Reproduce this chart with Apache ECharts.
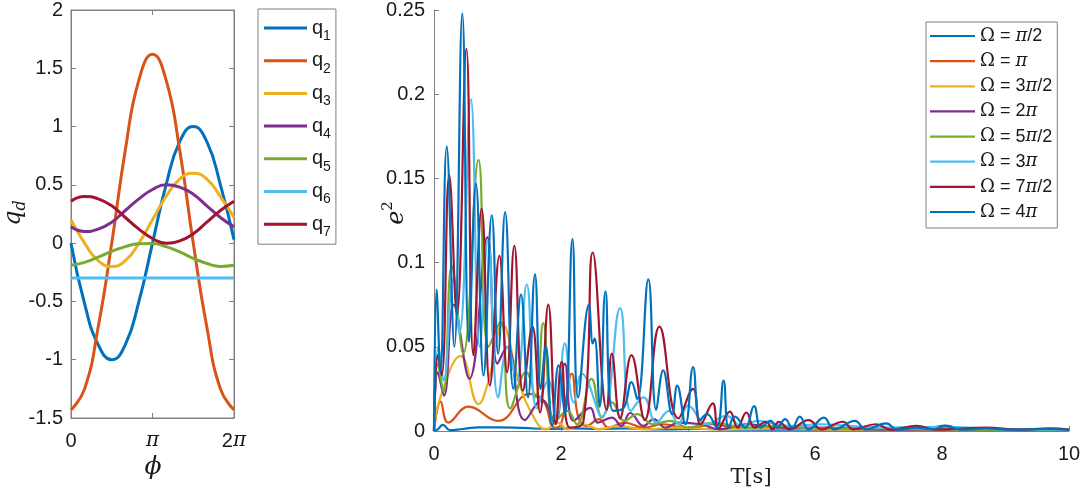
<!DOCTYPE html>
<html>
<head>
<meta charset="utf-8">
<script src="https://cdn.jsdelivr.net/npm/echarts@6/dist/echarts.min.js"></script>
<style>
  html, body { margin: 0; padding: 0; background: #fff; }
  #container { width: 1084px; height: 490px; }
</style>
</head>
<body>
<div id="container"></div>
<script>
// left panel: phi in multiples of pi
var phi = [0, 1/6, 2/6, 3/6, 4/6, 5/6, 1, 7/6, 8/6, 9/6, 10/6, 11/6, 2];
var q1 = [0, -0.52, -0.87, -1.0, -0.87, -0.5, 0, 0.5, 0.87, 1.0, 0.87, 0.5, 0.03];
var q2 = [-1.43, -1.25, -0.72, 0.0, 0.8, 1.4, 1.62, 1.4, 0.8, 0.0, -0.72, -1.25, -1.43];
var q3 = [0.2, 0.0, -0.15, -0.2, -0.15, 0.0, 0.2, 0.4, 0.55, 0.6, 0.55, 0.4, 0.22];
var q4 = [0.14, 0.1, 0.12, 0.18, 0.28, 0.38, 0.46, 0.5, 0.48, 0.42, 0.32, 0.22, 0.14];
var q5 = [-0.19, -0.165, -0.12, -0.07, -0.03, -0.005, -0.003, -0.03, -0.075, -0.13, -0.175, -0.2, -0.19];
var q6 = [-0.3, -0.3, -0.3, -0.3, -0.3, -0.3, -0.3, -0.3, -0.3, -0.3, -0.3, -0.3, -0.3];
var q7 = [0.36, 0.4, 0.38, 0.32, 0.22, 0.12, 0.04, 0.0, 0.02, 0.08, 0.18, 0.28, 0.36];
var qNames = ['q1', 'q2', 'q3', 'q4', 'q5', 'q6', 'q7'];

// right panel: [T, e^2]
var eHalfPi = [[0,0],[0.06,0.001],[0.14,0.0036],[0.25,0.0005],[0.45,0.0012],[0.7,0.0022],[1.0,0.0022],[1.4,0.0018],[1.8,0.0012],[2.2,0.0016],[2.6,0.0012],[3.0,0.0016],[3.6,0.001],[4.2,0.0012],[5,0.0008],[6,0.0008],[7,0.0007],[7.7,0.0008],[8.05,0.0032],[8.35,0.0008],[9,0.0006],[10,0.0005]];
var ePi = [[0,0],[0.105,0.0174],[0.225,0.005],[0.54,0.0145],[1.01,0.006],[1.51,0.022],[1.72,0.018],[1.9,0.002],[2.0,0.004],[2.17,0.034],[2.27,0.0085],[2.4,0.003],[2.6,0.007],[2.75,0.002],[3.0,0.005],[3.3,0.002],[3.6,0.004],[4.0,0.0015],[4.4,0.004],[4.8,0.0015],[5.4,0.003],[6,0.001],[6.8,0.002],[7.5,0.001],[8.2,0.0015],[9,0.0008],[10,0.0006]];
var e3HalfPi = [[0,0],[0.1,0.02],[0.42,0.0445],[0.7,0.016],[0.86,0.03],[1.08,0.063],[1.33,0.03],[1.51,0.0125],[1.77,0.001],[1.95,0.005],[2.1,0.001],[2.35,0.004],[2.6,0.001],[2.9,0.003],[3.3,0.001],[3.8,0.002],[4.5,0.001],[5.5,0.0015],[6.5,0.0008],[8,0.001],[10,0.0005]];
var e2Pi = [[0,0],[0.06,0.035],[0.157,0.021],[0.31,0.075],[0.556,0.031],[0.84,0.115],[1.0,0.04],[1.15,0.05],[1.43,0.0065],[1.7,0.0184],[1.9,0.005],[2.06,0.04],[2.2,0.006],[2.46,0.0137],[2.58,0.005],[2.8,0.008],[2.95,0.003],[3.09,0.0107],[3.3,0.003],[3.46,0.007],[3.65,0.002],[3.85,0.005],[4.2,0.004],[4.5,0.001],[4.9,0.004],[5.5,0.002],[6.2,0.002],[7,0.001],[8,0.001],[10,0.0005]];
var e5HalfPi = [[0,0],[0.06,0.04],[0.15,0.023],[0.28,0.098],[0.46,0.046],[0.7,0.161],[0.86,0.05],[1.05,0.065],[1.2,0.0134],[1.45,0.035],[1.6,0.02],[1.72,0.064],[1.9,0.005],[2.1,0.012],[2.25,0.004],[2.48,0.031],[2.65,0.008],[2.8,0.017],[3.0,0.006],[3.2,0.01],[3.45,0.004],[3.72,0.006],[4.0,0.002],[4.4,0.005],[4.9,0.002],[5.4,0.003],[6,0.0015],[7,0.0015],[8,0.001],[10,0.0005]];
var e3Pi = [[0,0],[0.07,0.05],[0.15,0.03],[0.3,0.09],[0.4,0.058],[0.58,0.197],[0.72,0.05],[0.85,0.113],[1.01,0.02],[1.16,0.05],[1.3,0.03],[1.46,0.087],[1.62,0.0135],[1.8,0.03],[1.93,0.008],[2.06,0.052],[2.2,0.017],[2.33,0.034],[2.64,0.0085],[2.93,0.073],[3.1,0.012],[3.3,0.02],[3.5,0.005],[3.7,0.012],[3.85,0.004],[4.0,0.015],[4.3,0.004],[4.6,0.009],[4.85,0.003],[5.1,0.006],[5.6,0.003],[6.1,0.004],[7,0.002],[8,0.0025],[9,0.001],[10,0.0008]];
var e7HalfPi = [[0,0],[0.06,0.045],[0.12,0.033],[0.24,0.152],[0.36,0.069],[0.51,0.227],[0.62,0.045],[0.75,0.132],[0.88,0.027],[1.03,0.104],[1.15,0.035],[1.265,0.11],[1.4,0.024],[1.55,0.062],[1.67,0.011],[1.8,0.075],[1.92,0.004],[2.01,0.041],[2.14,0.002],[2.35,0.005],[2.5,0.106],[2.72,0.0125],[2.8,0.046],[2.93,0.0075],[3.11,0.045],[3.32,0.0065],[3.55,0.062],[3.85,0.0075],[4.08,0.025],[4.2,0.004],[4.39,0.0164],[4.48,0.0015],[4.66,0.0115],[4.78,0.002],[4.92,0.011],[5.05,0.002],[5.23,0.0055],[5.33,0.001],[5.43,0.0055],[5.6,0.001],[5.9,0.0065],[6.1,0.001],[6.44,0.0055],[6.6,0.001],[6.96,0.004],[7.2,0.0008],[7.6,0.003],[7.9,0.0008],[8.7,0.002],[9.2,0.0008],[9.7,0.0015],[10,0.0008]];
var e4Pi = [[0,0],[0.04,0.084],[0.1,0.035],[0.2,0.169],[0.32,0.05],[0.446,0.248],[0.55,0.053],[0.66,0.147],[0.78,0.033],[0.91,0.128],[1.01,0.046],[1.12,0.13],[1.25,0.025],[1.37,0.081],[1.48,0.02],[1.59,0.093],[1.68,0.025],[1.76,0.05],[1.86,0.003],[1.96,0.039],[2.06,0.01],[2.18,0.114],[2.27,0.02],[2.44,0.075],[2.5,0.052],[2.53,0.055],[2.61,0.0145],[2.7,0.083],[2.82,0.012],[2.98,0.0135],[3.11,0.029],[3.2,0.019],[3.375,0.09],[3.5,0.0125],[3.61,0.036],[3.75,0.01],[3.83,0.027],[3.96,0.004],[4.08,0.038],[4.19,0.0065],[4.3,0.01],[4.45,0.002],[4.56,0.03],[4.64,0.002],[4.74,0.0085],[4.9,0.002],[5.04,0.0148],[5.15,0.002],[5.3,0.006],[5.4,0.002],[5.53,0.007],[5.64,0.002],[5.76,0.0085],[5.9,0.001],[6.14,0.008],[6.3,0.001],[6.63,0.006],[6.8,0.001],[7.12,0.0045],[7.3,0.0008],[7.6,0.002],[7.85,0.001],[8.05,0.003],[8.3,0.0008],[8.7,0.0015],[9.1,0.0008],[9.6,0.0012],[10,0.0008]];
var omegaNames = ['Ω = π/2', 'Ω = π', 'Ω = 3π/2', 'Ω = 2π', 'Ω = 5π/2', 'Ω = 3π', 'Ω = 7π/2', 'Ω = 4π'];

var colors = ['#0072BD', '#D95319', '#EDB120', '#7E2F8E', '#77AC30', '#4DBEEE', '#A2142F', '#0072BD'];
var sans = "'Liberation Sans', Arial, sans-serif";
var serif = "'DejaVu Serif', 'Liberation Serif', serif";
var axisGray = '#808080';
var txt = '#1a1a1a';

var dom = document.getElementById('container');
var myChart = echarts.init(dom);

var qData = [q1, q2, q3, q4, q5, q6, q7];
var eData = [eHalfPi, ePi, e3HalfPi, e2Pi, e5HalfPi, e3Pi, e7HalfPi, e4Pi];

var series = [];
qData.forEach(function (vals, i) {
    series.push({
        name: qNames[i],
        type: 'line',
        xAxisIndex: 0,
        yAxisIndex: 0,
        smooth: true,
        symbol: 'none',
        color: colors[i],
        lineStyle: { width: 3, color: colors[i] },
        data: phi.map(function (p, k) { return [p, vals[k]]; })
    });
});
eData.forEach(function (pts, i) {
    series.push({
        name: omegaNames[i],
        type: 'line',
        xAxisIndex: 2,
        yAxisIndex: 2,
        smooth: 0.45,
        symbol: 'none',
        color: colors[i],
        lineStyle: { width: 2.2, color: colors[i] },
        data: pts
    });
});

var tick = { show: true, inside: true, length: 5, lineStyle: { color: axisGray } };
var line = { show: true, onZero: false, lineStyle: { color: axisGray, width: 1 } };
var piRich = { p: { fontFamily: serif, fontStyle: 'italic', fontSize: 20, color: txt } };

option = {
    animation: false,
    grid: [
        { left: 71, top: 10, width: 163, height: 408, show: true, borderColor: axisGray, borderWidth: 1 },
        { left: 434, top: 10, width: 635, height: 421 }
    ],
    xAxis: [
        {
            gridIndex: 0, type: 'value', min: 0, max: 2, interval: 1,
            axisLine: line, axisTick: tick, splitLine: { show: false },
            axisLabel: {
                color: txt, fontSize: 20, fontFamily: sans, margin: 13, rich: piRich,
                formatter: function (v) { return v === 0 ? '0' : (v === 1 ? '{p|π}' : '2{p|π}'); }
            }
        },
        {
            gridIndex: 0, type: 'value', position: 'top', min: 0, max: 2, interval: 1,
            axisLine: line, axisTick: tick, splitLine: { show: false }, axisLabel: { show: false }
        },
        {
            gridIndex: 1, type: 'value', min: 0, max: 10, interval: 2,
            axisLine: line, axisTick: tick, splitLine: { show: false },
            axisLabel: { color: txt, fontSize: 20, fontFamily: sans, margin: 13 }
        }
    ],
    yAxis: [
        {
            gridIndex: 0, type: 'value', min: -1.5, max: 2, interval: 0.5,
            axisLine: line, axisTick: tick, splitLine: { show: false },
            axisLabel: { color: txt, fontSize: 20, fontFamily: sans, margin: 8 }
        },
        {
            gridIndex: 0, type: 'value', position: 'right', min: -1.5, max: 2, interval: 0.5,
            axisLine: line, axisTick: tick, splitLine: { show: false }, axisLabel: { show: false }
        },
        {
            gridIndex: 1, type: 'value', min: 0, max: 0.25, interval: 0.05,
            axisLine: line, axisTick: tick, splitLine: { show: false },
            axisLabel: { color: txt, fontSize: 20, fontFamily: sans, margin: 9 }
        }
    ],
    legend: [
        {
            data: qNames,
            orient: 'vertical',
            left: 258, top: 9,
            padding: [9, 5, 5, 6],
            itemWidth: 43, itemHeight: 3, itemGap: 7.7,
            borderColor: axisGray, borderWidth: 1,
            icon: 'rect',
            formatter: function (name) { return '{q|q}{s|' + name.slice(1) + '}'; },
            textStyle: {
                color: txt,
                rich: {
                    q: { fontSize: 20, fontFamily: sans, color: txt, lineHeight: 30 },
                    s: { fontSize: 14, fontFamily: sans, color: txt, lineHeight: 14, verticalAlign: 'bottom' }
                }
            }
        },
        {
            data: omegaNames,
            orient: 'vertical',
            left: 926, top: 22,
            padding: [5, 5, 7, 4],
            itemWidth: 45, itemHeight: 2.2, itemGap: 7.14,
            borderColor: axisGray, borderWidth: 1,
            icon: 'rect',
            formatter: function (name) {
                return name.replace('Ω', '{o|Ω}').replace('π', '{p|π}');
            },
            textStyle: {
                color: txt, fontSize: 18, fontFamily: sans, lineHeight: 18,
                rich: {
                    o: { fontFamily: serif, fontSize: 18, color: txt, lineHeight: 18 },
                    p: { fontFamily: serif, fontStyle: 'italic', fontSize: 18, color: txt, lineHeight: 18 }
                }
            }
        }
    ],
    graphic: [
        {
            type: 'text', x: 153, y: 467,
            style: { text: 'ϕ', font: 'italic 25px ' + serif, fill: txt, align: 'center', verticalAlign: 'middle' }
        },
        {
            type: 'text', x: 14, y: 213, rotation: Math.PI / 2,
            style: {
                text: '{q|q}{d|d}', align: 'center', verticalAlign: 'middle', fill: txt,
                rich: {
                    q: { fontFamily: serif, fontStyle: 'italic', fontSize: 24, fill: txt },
                    d: { fontFamily: serif, fontStyle: 'italic', fontSize: 16, fill: txt, padding: [14, 0, 0, 0] }
                }
            }
        },
        {
            type: 'text', x: 392, y: 213, rotation: Math.PI / 2,
            style: {
                text: '{e|e}{s|2}', align: 'center', verticalAlign: 'middle', fill: txt,
                rich: {
                    e: { fontFamily: serif, fontStyle: 'italic', fontSize: 24, fill: txt, padding: [10, 0, 0, 0] },
                    s: { fontFamily: serif, fontSize: 15, fill: txt, padding: [0, 0, 8, 0] }
                }
            }
        },
        {
            type: 'text', x: 751, y: 478,
            style: { text: 'T[s]', font: '21px ' + serif, fill: txt, align: 'center', verticalAlign: 'middle' }
        }
    ],
    series: series
};
myChart.setOption(option, true);
</script>
</body>
</html>
